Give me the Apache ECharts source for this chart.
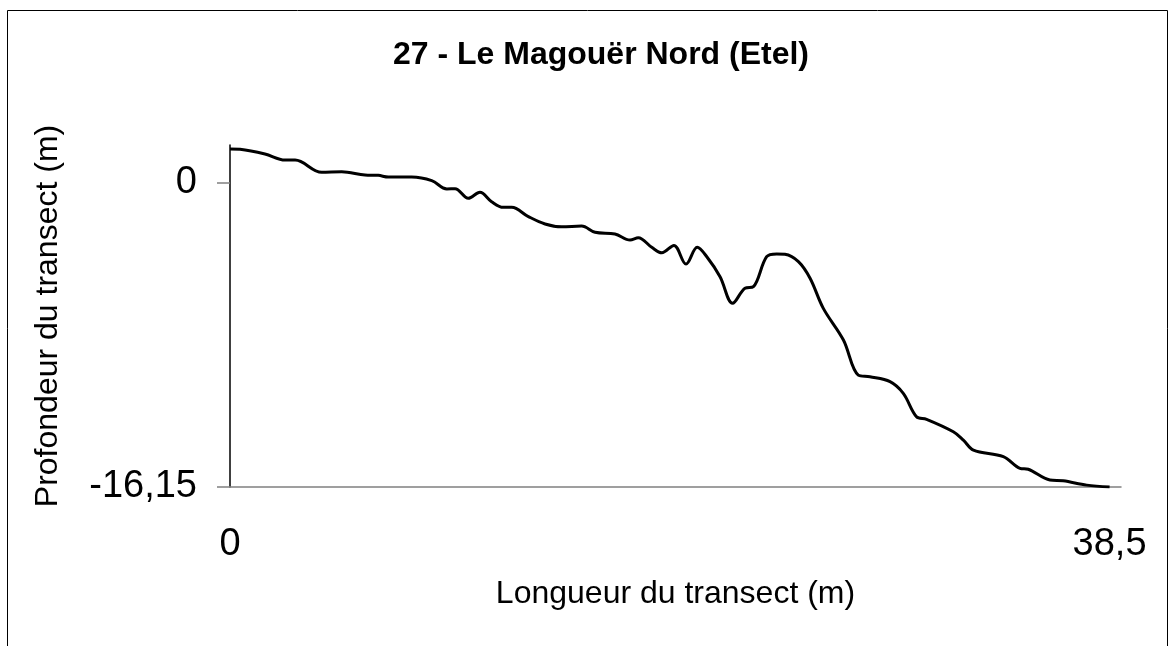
<!DOCTYPE html>
<html>
<head>
<meta charset="utf-8">
<script src="https://cdn.jsdelivr.net/npm/echarts@6/dist/echarts.min.js"></script>
<style>
  html, body { margin: 0; padding: 0; background: #fff; }
  #chart { width: 1176px; height: 646px; }
</style>
</head>
<body>
<div id="chart"></div>
<script>
// Transect profile: distance along the transect (m) and depth (m)
const distance = [0, 0.44, 1.53, 2.41, 2.85, 4.01, 4.89, 5.91, 6.49, 6.93, 7.95, 8.83, 9.49, 9.85,
  10.43, 10.94, 11.45, 11.96, 12.33, 13.06, 13.79, 14.52, 15.39, 15.98, 16.85, 17.51, 17.87, 18.46,
  18.90, 19.43, 19.96, 20.45, 20.87, 21.45, 22.00, 22.54, 22.91, 23.49, 23.93, 24.29, 24.88, 25.39,
  25.97, 26.85, 27.50, 28.01, 28.89, 29.47, 30.05, 30.49, 31.66, 32.10, 32.54, 33.85, 34.58, 34.94,
  35.89, 36.47, 37.50, 38.5];
const depth = [1.79, 1.77, 1.52, 1.20, 1.20, 0.55, 0.58, 0.41, 0.39, 0.30, 0.30, 0.11, -0.33, -0.32,
  -0.83, -0.51, -1.01, -1.31, -1.31, -1.80, -2.19, -2.34, -2.30, -2.63, -2.72, -3.04, -2.92, -3.43,
  -3.72, -3.33, -4.32, -3.43, -3.93, -4.99, -6.40, -5.60, -5.52, -3.93, -3.78, -3.80, -4.19, -5.07,
  -6.67, -8.35, -10.21, -10.30, -10.56, -11.18, -12.42, -12.56, -13.22, -13.66, -14.19, -14.54, -15.16, -15.21,
  -15.78, -15.82, -16.05, -16.15];
const xTickValues = [0, 38.5];
const yTickValues = [0, -16.15];

const FONT = '"Liberation Sans", Arial, sans-serif';
const fmt = v => String(v).replace('.', ',');

const chart = echarts.init(document.getElementById('chart'), null, { renderer: 'canvas' });
chart.setOption({
  animation: false,
  backgroundColor: '#ffffff',
  title: {
    text: '27 - Le Magouër Nord (Etel)',
    left: 596, top: 34, textAlign: 'center',
    textStyle: { fontFamily: FONT, fontWeight: 'bold', fontSize: 32, color: '#000' }
  },
  graphic: [{
    type: 'rect', silent: true,
    shape: { x: 7.5, y: 10.5, width: 1160, height: 660 },
    style: { fill: null, stroke: '#000', lineWidth: 1 }
  }],
  grid: { left: 230, top: 145, width: 891, height: 342, containLabel: false },
  xAxis: {
    type: 'value', min: 0, max: 39,
    name: 'Longueur du transect (m)', nameLocation: 'middle', nameGap: 91,
    nameTextStyle: { fontFamily: FONT, fontSize: 32, color: '#000' },
    axisLine: { onZero: false, lineStyle: { color: '#808080', width: 1.5 } },
    axisTick: { show: false },
    splitLine: { show: false },
    axisLabel: {
      customValues: xTickValues, formatter: fmt, margin: 39,
      fontFamily: FONT, fontSize: 38, color: '#000'
    }
  },
  yAxis: {
    type: 'value', min: -16.15, max: 2,
    name: 'Profondeur du transect (m)', nameLocation: 'middle', nameGap: 166,
    nameTextStyle: { fontFamily: FONT, fontSize: 32, color: '#000' },
    axisLine: { onZero: false, lineStyle: { color: '#000', width: 1.5 } },
    axisTick: { customValues: yTickValues, length: 13, lineStyle: { color: '#808080', width: 1.5 } },
    splitLine: { show: false },
    axisLabel: {
      customValues: yTickValues, formatter: fmt, margin: 33,
      fontFamily: FONT, fontSize: 38, color: '#000'
    }
  },
  series: [{
    type: 'line',
    data: distance.map((d, i) => [d, depth[i]]),
    smooth: 0.35,
    showSymbol: false,
    lineStyle: { color: '#000', width: 3 }
  }]
});
</script>
</body>
</html>
